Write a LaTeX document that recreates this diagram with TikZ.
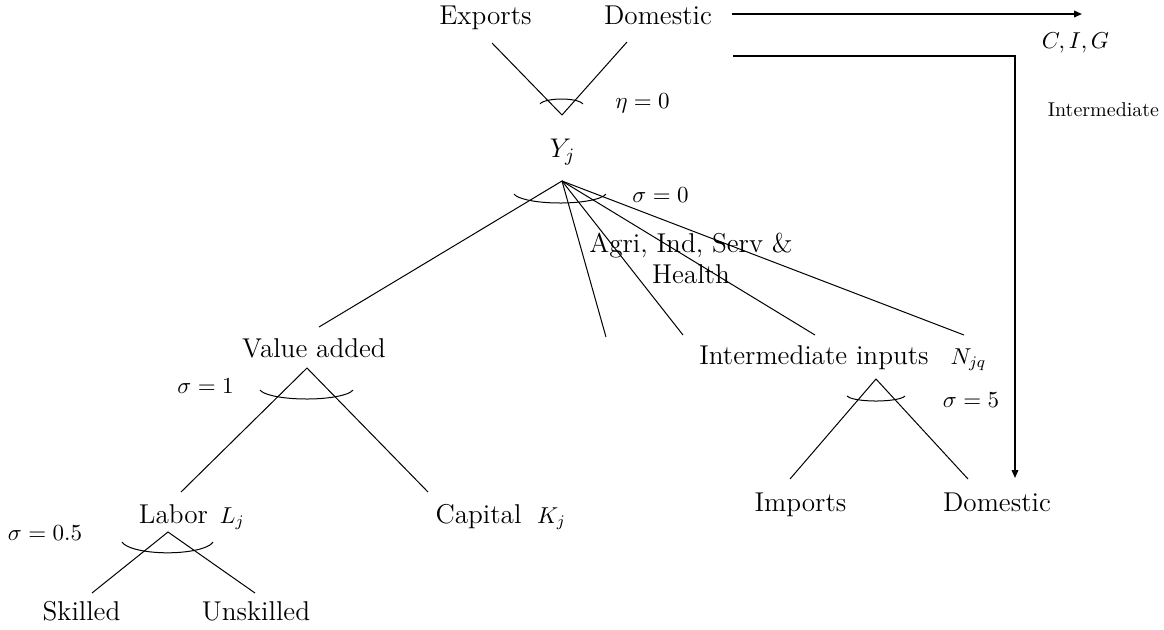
\RequirePackage{fix-cm}
\documentclass[tikz,border=0pt]{standalone}
\usepackage{tikz}
\usetikzlibrary{arrows.meta,positioning}

\begin{document}
\begin{tikzpicture}[
    x=0.5pt, y=-0.5pt,
    font=\fontsize{13.6}{15.5}\selectfont,
    txt/.style={anchor=base, inner sep=0pt, align=center},
    sym/.style={anchor=base, inner sep=0pt, font=\fontsize{11.5}{13}\selectfont},
    small/.style={anchor=base, inner sep=0pt, font=\fontsize{10}{12}\selectfont},
    branch/.style={line width=0.5pt},
    arr/.style={-{Triangle[length=4pt, width=3.3pt]}, line width=0.75pt}]
    \useasboundingbox (0,0) rectangle (1164,629);
    % output of sector j
    \node[txt] (exp) at (485.5,24) {Exports};
    \node[txt] (domout) at (658,24) {Domestic};
    \node[sym] (cig) at (1075.5,48) {$C,I,G$};
    \node[small] (intuse) at (1103.5,116) {Intermediate};
    \node[sym] (eta) at (642.5,108) {$\eta=0$};
    \node[txt, font=\fontsize{13.5}{15}\selectfont] (yj) at (562.5,157) {$Y_j$};
    \node[sym] (sig0) at (660.5,202) {$\sigma=0$};
    % inputs of sector j
    \node[txt] (agri) at (691,283) {Agri, Ind, Serv \&\\Health};
    \node[txt] (va) at (314,357) {Value added};
    \node[sym] (sig1) at (205.5,393) {$\sigma=1$};
    \node[txt] (inter) at (814,364) {Intermediate inputs};
    \node[sym, base right=10.5pt of inter] (njq) {$N_{jq}$};
    \node[sym] (sig5) at (971,407) {$\sigma=5$};
    \node[txt] (imp) at (800.5,511) {Imports};
    \node[txt] (domin) at (997,511) {Domestic};
    \node[txt] (labor) at (173.5,523) {Labor};
    \node[sym, base right=5.5pt of labor] (lj) {$L_j$};
    \node[txt] (capital) at (478.5,523) {Capital};
    \node[sym, base right=7.5pt of capital] (kj) {$K_j$};
    \node[sym] (sig05) at (45,540) {$\sigma=0.5$};
    \node[txt] (skilled) at (81.5,620) {Skilled};
    \node[txt] (unskilled) at (256,620) {Unskilled};

    \coordinate (ytop) at (562,115);
    \coordinate (exp-in) at (492,43);
    \coordinate (dom-in) at (627,42);
    \coordinate (ybot) at (562,181);
    \coordinate (va-in) at (319,327);
    \coordinate (gap1) at (606,337);
    \coordinate (gap2) at (683,335);
    \coordinate (inter-in) at (815,335);
    \coordinate (njq-in) at (964,335);
    \coordinate (vatop) at (307,368);
    \coordinate (labor-in) at (181,492);
    \coordinate (capital-in) at (428,492);
    \coordinate (labtop) at (168,532);
    \coordinate (skilled-in) at (92,593);
    \coordinate (unskilled-in) at (255,593);
    \coordinate (intop) at (876,379);
    \coordinate (imp-in) at (790,479);
    \coordinate (domin-in) at (968,479);
    \coordinate (cig-from) at (732,14);
    \coordinate (cig-to) at (1082,14);
    \coordinate (int-from) at (733,56);
    \coordinate (int-to) at (1015,478);

    \draw[branch] (exp-in) -- (ytop) -- (dom-in);
    \draw[branch] (va-in) -- (ybot) -- (gap1);
    \draw[branch] (ybot) -- (gap2);
    \draw[branch] (ybot) -- (inter-in);
    \draw[branch] (ybot) -- (njq-in);
    \draw[branch] (labor-in) -- (vatop) -- (capital-in);
    \draw[branch] (skilled-in) -- (labtop) -- (unskilled-in);
    \draw[branch] (imp-in) -- (intop) -- (domin-in);
    % elasticity arcs
    \draw[branch] ([shift={(190:21.8 and 6)}]561.5,105) arc[start angle=190, end angle=350, x radius=21.8, y radius=6];
    \draw[branch] ([shift={(10:46.7 and 10.8)}]560,192.2) arc[start angle=10, end angle=170, x radius=46.7, y radius=10.8];
    \draw[branch] ([shift={(10:47.2 and 10.8)}]306.5,388.2) arc[start angle=10, end angle=170, x radius=47.2, y radius=10.8];
    \draw[branch] ([shift={(10:46.2 and 13)}]167.5,539.8) arc[start angle=10, end angle=170, x radius=46.2, y radius=13];
    \draw[branch] ([shift={(10:29.4 and 6)}]876,395) arc[start angle=10, end angle=170, x radius=29.4, y radius=6];
    % final and intermediate use
    \draw[arr] (cig-from) -- (cig-to);
    \draw[arr] (int-from) -| (int-to);
\end{tikzpicture}
\end{document}
